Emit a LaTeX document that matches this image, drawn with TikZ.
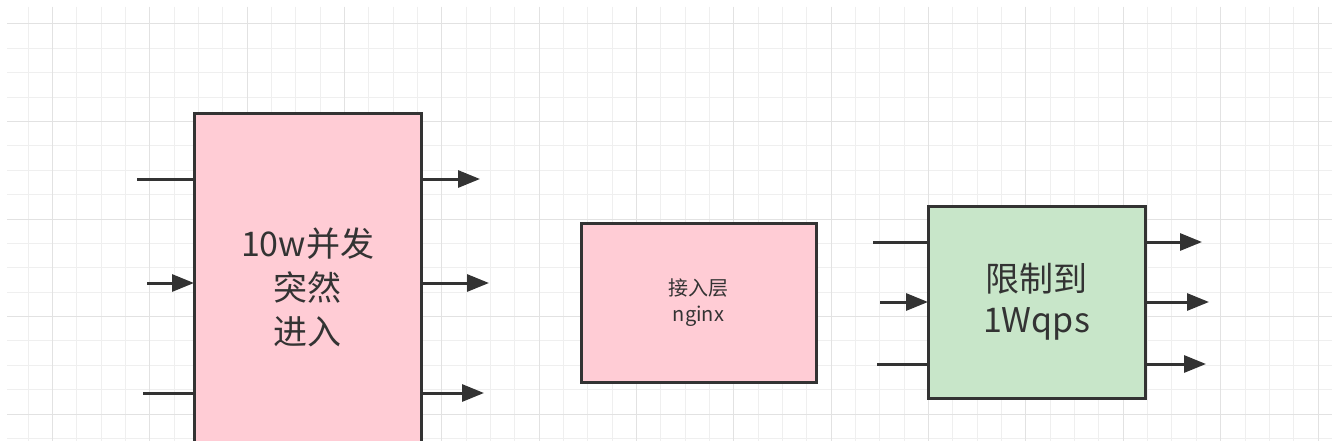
\documentclass[tikz,border=0pt]{standalone}
\usepackage{fontspec}
\setmainfont{Noto Sans CJK SC}
\usetikzlibrary{arrows.meta}
\definecolor{gridminor}{HTML}{EFEFEF}
\definecolor{gridmajor}{HTML}{E2E2E2}
\definecolor{ink}{HTML}{333333}
\definecolor{pinkfill}{HTML}{FFCCD5}
\definecolor{greenfill}{HTML}{C8E6C9}
\begin{document}
\begin{tikzpicture}[x=1pt,y=-1pt,
  box/.style={draw=ink, line width=3pt, outer sep=0pt, inner sep=0pt, text=ink, align=center},
  conn/.style={draw=ink, line width=3pt},
  arr/.style={conn, -{Triangle[length=22pt,width=17pt]}},
  gminor/.style={draw=gridminor, line width=1pt},
  gmajor/.style={draw=gridmajor, line width=1pt}
]
\useasboundingbox (0,0) rectangle (1332,441);
\clip (0,0) rectangle (1332,441);
\fill[white] (0,0) rectangle (1332,441);
% grid
\foreach \k in {0,...,53} {\draw[gminor] ({28+24.34*\k},7) -- ({28+24.34*\k},441);}
\foreach \j in {0,...,17} {\draw[gminor] (7,{24+24.375*\j}) -- (1332,{24+24.375*\j});}
\foreach \k in {1,5,...,53} {\draw[gmajor] ({28+24.34*\k},7) -- ({28+24.34*\k},441);}
\foreach \j in {0,4,...,16} {\draw[gmajor] (7,{24+24.375*\j}) -- (1332,{24+24.375*\j});}

% boxes
\node[box, fill=pinkfill, minimum width=227pt, minimum height=346pt,
      font=\fontsize{34}{44}\selectfont] (b1) at (307.5,287) {10w并发\\突然\\进入};
\node[box, fill=pinkfill, minimum width=235pt, minimum height=159pt,
      font=\fontsize{20}{26}\selectfont] (b2) at (698.5,302.5) {接入层\\nginx};
\node[box, fill=greenfill, minimum width=217pt, minimum height=192pt,
      font=\fontsize{34}{41}\selectfont] (b3) at (1036.5,302) {限制到\\1Wqps};

% free ends
\coordinate (i11) at (137,179);
\coordinate (i12) at (147,283);
\coordinate (i13) at (143,393);
\coordinate (o11) at (480,179);
\coordinate (o12) at (489,283);
\coordinate (o13) at (484,393);
\coordinate (i31) at (873,242);
\coordinate (i32) at (880,302);
\coordinate (i33) at (877,364);
\coordinate (o31) at (1202,242);
\coordinate (o32) at (1209,302);
\coordinate (o33) at (1206,364);

% connectors box 1
\draw[conn] (i11) -- (i11 -| b1.west);
\draw[arr]  (i12) -- (i12 -| b1.west);
\draw[conn] (i13) -- (i13 -| b1.west);
\draw[arr]  (o11 -| b1.east) -- (o11);
\draw[arr]  (o12 -| b1.east) -- (o12);
\draw[arr]  (o13 -| b1.east) -- (o13);

% connectors box 3
\draw[conn] (i31) -- (i31 -| b3.west);
\draw[arr]  (i32) -- (i32 -| b3.west);
\draw[conn] (i33) -- (i33 -| b3.west);
\draw[arr]  (o31 -| b3.east) -- (o31);
\draw[arr]  (o32 -| b3.east) -- (o32);
\draw[arr]  (o33 -| b3.east) -- (o33);
\end{tikzpicture}
\end{document}
